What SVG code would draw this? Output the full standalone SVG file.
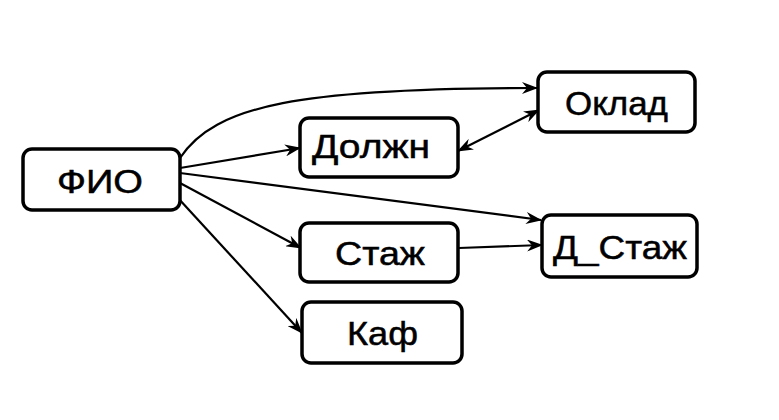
<svg xmlns="http://www.w3.org/2000/svg" width="779" height="420" viewBox="0 0 779 420">
<style>
.box{fill:#fff;stroke:#000;stroke-width:3.5}
.lbl{font-family:"Liberation Sans",Arial,sans-serif;font-size:34px;fill:#000;stroke:#000;stroke-width:0.5}
.edge{fill:none;stroke:#000;stroke-width:2.2}
</style>
<defs>
<marker id="ah" viewBox="0 0 16 12" refX="15" refY="6" markerWidth="16" markerHeight="12" markerUnits="userSpaceOnUse" orient="auto-start-reverse">
<path d="M0,0 L16,6 L0,12 L5,6 z" fill="#000"/>
</marker>
</defs>
<rect width="779" height="420" fill="#fff"/>
<g id="connectors">
<path class="edge" d="M180,158 C215,105 300,88 537,88" marker-end="url(#ah)"/>
<path class="edge" d="M180,168 L300,148" marker-end="url(#ah)"/>
<path class="edge" d="M180,173 L541,220" marker-end="url(#ah)"/>
<path class="edge" d="M180,183 L301,248" marker-end="url(#ah)"/>
<path class="edge" d="M178,198 L302,333" marker-end="url(#ah)"/>
<path class="edge" d="M459,248 L542,245" marker-end="url(#ah)"/>
<path class="edge" d="M458,151 L539,110" marker-start="url(#ah)" marker-end="url(#ah)"/>
</g>
<g id="node-fio"><rect class="box" x="23" y="149" width="157" height="61" rx="9"/><text class="lbl" x="57" y="193" textLength="86" lengthAdjust="spacingAndGlyphs">ФИО</text></g>
<g id="node-dolzhn"><rect class="box" x="300" y="118" width="158" height="59" rx="9"/><text class="lbl" x="312" y="158" textLength="118" lengthAdjust="spacingAndGlyphs">Должн</text></g>
<g id="node-oklad"><rect class="box" x="538" y="72" width="157" height="60" rx="9"/><text class="lbl" x="565" y="115" textLength="103" lengthAdjust="spacingAndGlyphs">Оклад</text></g>
<g id="node-dstazh"><rect class="box" x="542" y="215" width="155" height="62" rx="9"/><text class="lbl" x="553" y="259" textLength="134" lengthAdjust="spacingAndGlyphs">Д_Стаж</text></g>
<g id="node-stazh"><rect class="box" x="300" y="223" width="158" height="59" rx="9"/><text class="lbl" x="335" y="265" textLength="90" lengthAdjust="spacingAndGlyphs">Стаж</text></g>
<g id="node-kaf"><rect class="box" x="302" y="302" width="160" height="61" rx="9"/><text class="lbl" x="347" y="345" textLength="71" lengthAdjust="spacingAndGlyphs">Каф</text></g>
</svg>
